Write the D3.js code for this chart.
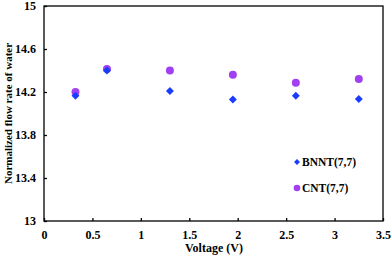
<!DOCTYPE html>
<html>
<head>
<meta charset="utf-8">
<script src="https://cdn.jsdelivr.net/npm/d3@7"></script>
<style>
  body { margin: 0; background: #fff; }
  text { font-family: "Liberation Serif", "Times New Roman", serif; font-weight: bold; }
</style>
</head>
<body>
<script>
// data
const voltage = [0.325, 0.65, 1.3, 1.95, 2.6, 3.25];
const bnnt = [14.165, 14.40, 14.21, 14.13, 14.165, 14.135];
const cnt = [14.20, 14.415, 14.40, 14.36, 14.285, 14.32];
const xTicks = [0, 0.5, 1, 1.5, 2, 2.5, 3, 3.5];
const yTicks = [13, 13.4, 13.8, 14.2, 14.6, 15];

const width = 392, height = 258;
const plotL = 44, plotR = 383, plotT = 6, plotB = 221;

const svg = d3.select("body").append("svg")
    .attr("width", width)
    .attr("height", height);

const x = d3.scaleLinear().domain([0, 3.5]).range([plotL, plotR]);
const y = d3.scaleLinear().domain([13, 15]).range([plotB, plotT]);

// frame
svg.append("rect")
    .attr("x", plotL).attr("y", plotT)
    .attr("width", plotR - plotL).attr("height", plotB - plotT)
    .attr("fill", "none").attr("stroke", "#000").attr("stroke-width", 1.3);

// axes with inward ticks
const xAxis = svg.append("g")
    .attr("transform", `translate(0,${plotB})`)
    .call(d3.axisBottom(x).tickValues(xTicks).tickFormat(d3.format("")).tickSizeInner(-3).tickSizeOuter(0).tickPadding(9));
const yAxis = svg.append("g")
    .attr("transform", `translate(${plotL},0)`)
    .call(d3.axisLeft(y).tickValues(yTicks).tickFormat(d3.format("")).tickSizeInner(-3).tickSizeOuter(0).tickPadding(8));

[xAxis, yAxis].forEach(g => {
    g.select(".domain").remove();
    g.selectAll("line").attr("stroke", "#000").attr("stroke-width", 1.3);
    g.selectAll("text").style("font-size", "12px").attr("fill", "#000");
});

// axis titles
svg.append("text")
    .attr("x", 214).attr("y", 252)
    .attr("text-anchor", "middle")
    .style("font-size", "12px")
    .text("Voltage (V)");

svg.append("text")
    .attr("transform", `translate(12,${(plotT + plotB) / 2}) rotate(-90)`)
    .attr("text-anchor", "middle")
    .style("font-size", "11px")
    .text("Normalized flow rate of water");

const diamond = d3.symbol().type(d3.symbolDiamond2).size(40);

// CNT circles
svg.selectAll("circle.cnt")
    .data(voltage)
    .enter()
    .append("circle")
    .attr("class", "cnt")
    .attr("cx", d => x(d))
    .attr("cy", (d, i) => y(cnt[i]))
    .attr("r", 4)
    .attr("fill", "#a040f0");

// BNNT diamonds
svg.selectAll("path.bnnt")
    .data(voltage)
    .enter()
    .append("path")
    .attr("class", "bnnt")
    .attr("d", diamond)
    .attr("transform", (d, i) => `translate(${x(d)},${y(bnnt[i])})`)
    .attr("fill", "#1a3cff");

// legend
const legend = svg.append("g");
legend.append("path")
    .attr("d", d3.symbol().type(d3.symbolDiamond2).size(22))
    .attr("transform", "translate(297,162)")
    .attr("fill", "#1a3cff");
legend.append("text")
    .attr("x", 302).attr("y", 166)
    .style("font-size", "11.5px")
    .text("BNNT(7,7)");
legend.append("circle")
    .attr("cx", 297).attr("cy", 188).attr("r", 3.3)
    .attr("fill", "#a040f0");
legend.append("text")
    .attr("x", 302).attr("y", 192)
    .style("font-size", "11.5px")
    .text("CNT(7,7)");
</script>
</body>
</html>
